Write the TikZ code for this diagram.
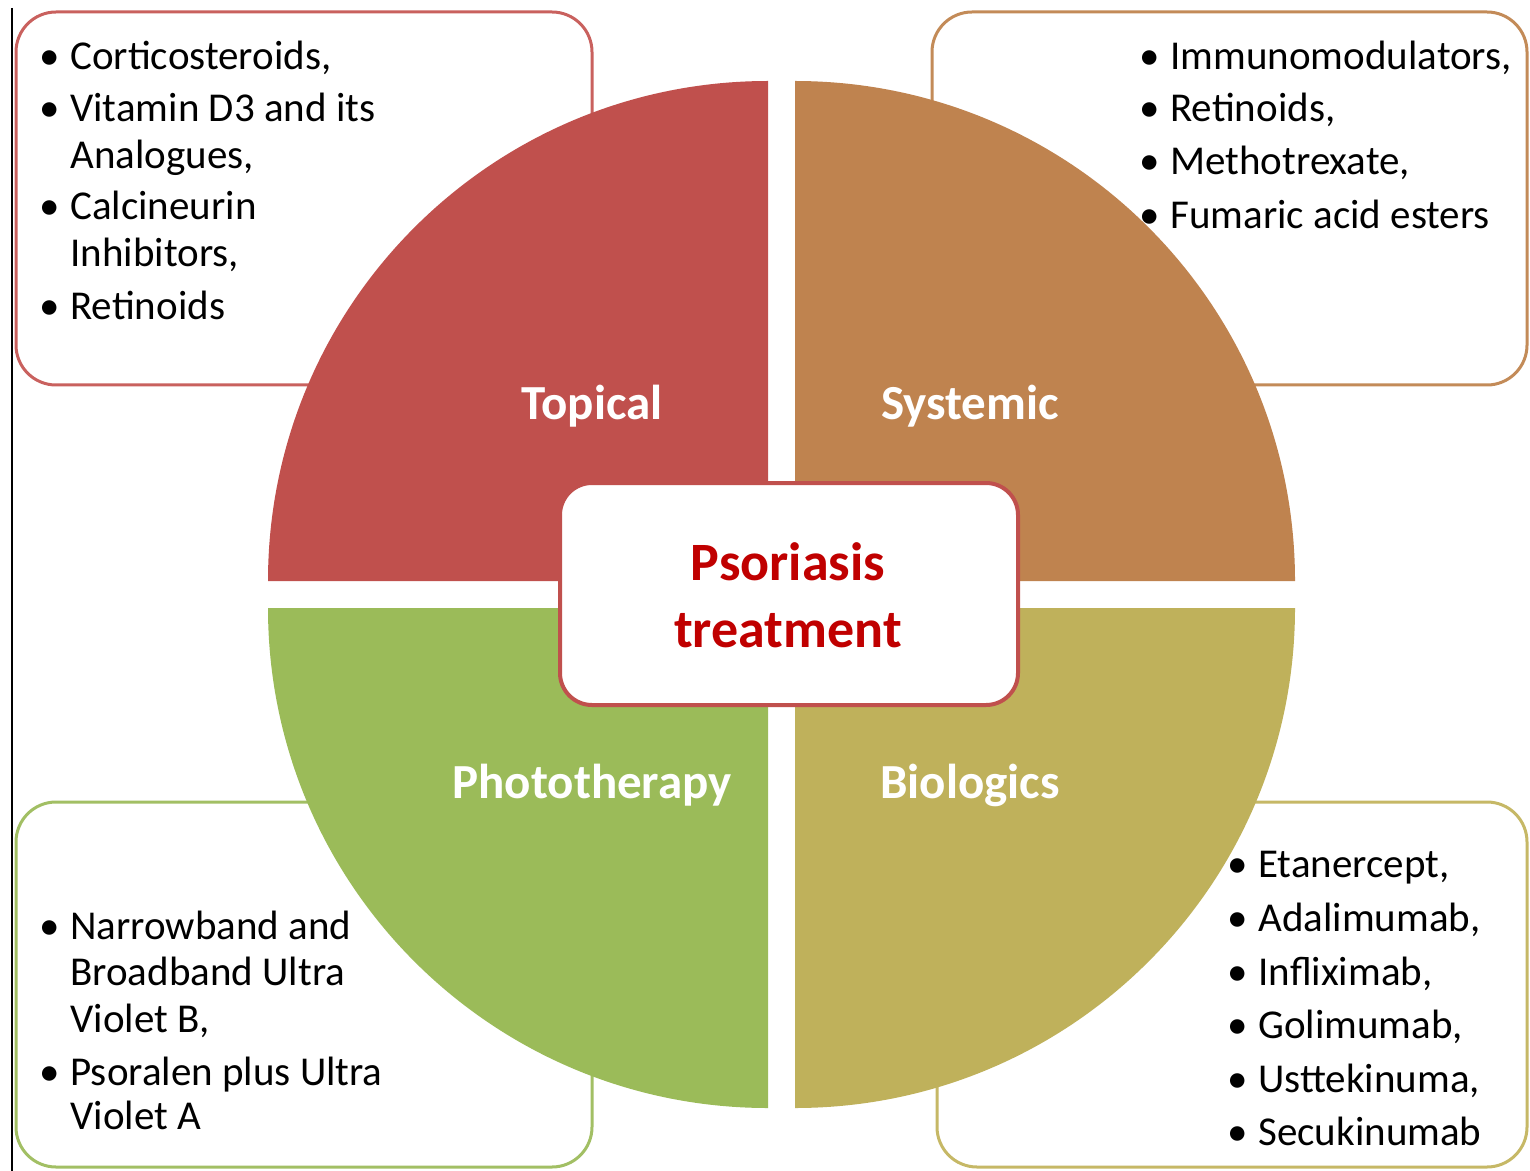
\documentclass[tikz,border=0pt]{standalone}
\usepackage{fontspec}
\setmainfont{Carlito}
\definecolor{topc}{HTML}{C0504D}
\definecolor{sysc}{HTML}{BF834F}
\definecolor{phoc}{HTML}{9BBB59}
\definecolor{bioc}{HTML}{BFB15B}
\definecolor{topb}{HTML}{C9615E}
\definecolor{sysb}{HTML}{C38B58}
\definecolor{phob}{HTML}{A2BF64}
\definecolor{biob}{HTML}{C6B866}
\definecolor{titlec}{HTML}{C00000}
\newcommand{\bl}{\llap{\textbullet\hspace{5pt}}}
\begin{document}
\begin{tikzpicture}[x=0.5pt,y=-0.5pt,
  listtxt/.style={anchor=base west, inner sep=0pt, font=\fontsize{20.5}{24}\selectfont},
  quadlab/.style={anchor=base, inner sep=0pt, text=white, font=\fontsize{24.5}{28}\selectfont\bfseries},
  titletxt/.style={anchor=base, inner sep=0pt, text=titlec, font=\fontsize{27}{32}\selectfont\bfseries},
  outerbox/.style={line width=1.5pt, fill=white, rounded corners=20pt}]
\useasboundingbox (0,0) rectangle (1530,1171);
% left rule
\draw[line width=0.8pt, black] (12,8) -- (12,1171);
% outer boxes
\draw[outerbox, draw=topb] (16,12) rectangle (592,385);
\draw[outerbox, draw=sysb] (932,12) rectangle (1527,385);
\draw[outerbox, draw=phob] (16,802) rectangle (592,1167);
\draw[outerbox, draw=biob] (937,802) rectangle (1527,1167);
% quadrants
\fill[topc] (768,581) -- (268,581) arc[start angle=180, end angle=90, radius=250pt] -- cycle;
\fill[sysc] (795,581) -- (795,81) arc[start angle=90, end angle=0, radius=250pt] -- cycle;
\fill[phoc] (768,608) -- (768,1108) arc[start angle=270, end angle=180, radius=250pt] -- cycle;
\fill[bioc] (795,608) -- (1295,608) arc[start angle=0, end angle=-90, radius=250pt] -- cycle;
% centre box
\draw[line width=2pt, draw=topc, fill=white, rounded corners=16pt] (560,483) rectangle (1018,705);
\node[titletxt] (ttl1) at (788,580) {Psoriasis};
\node[titletxt] (ttl2) at (788,647) {treatment};
% quadrant labels
\node[quadlab] (topical) at (592,419) {Topical};
\node[quadlab] (systemic) at (970,419) {Systemic};
\node[quadlab] (photo) at (592,798) {Phototherapy};
\node[quadlab] (bio) at (970,798) {Biologics};
% topical list
\node[listtxt] (a1) at (70,70) {\bl Corticosteroids,};
\node[listtxt] (a2) at (70,122) {\bl Vitamin D3 and its};
\node[listtxt] (a3) at (70,169) {Analogues,};
\node[listtxt] (a4) at (70,220) {\bl Calcineurin};
\node[listtxt] (a5) at (70,267) {Inhibitors,};
\node[listtxt] (a6) at (70,320) {\bl Retinoids};
% systemic list
\node[listtxt] (b1) at (1170,70) {\bl Immunomodulators,};
\node[listtxt] (b2) at (1170,122) {\bl Retinoids,};
\node[listtxt] (b3) at (1170,175) {\bl Methotrexate,};
\node[listtxt] (b4) at (1170,229) {\bl Fumaric acid esters};
% phototherapy list
\node[listtxt] (c1) at (70,939) {\bl Narrowband and};
\node[listtxt] (c2) at (70,985) {Broadband Ultra};
\node[listtxt] (c3) at (70,1032) {Violet B,};
\node[listtxt] (c4) at (70,1085) {\bl Psoralen plus Ultra};
\node[listtxt] (c5) at (70,1129) {Violet A};
% biologics list
\node[listtxt] (d1) at (1258,877) {\bl Etanercept,};
\node[listtxt] (d2) at (1258,931) {\bl Adalimumab,};
\node[listtxt] (d3) at (1258,985) {\bl Infliximab,};
\node[listtxt] (d4) at (1258,1038) {\bl Golimumab,};
\node[listtxt] (d5) at (1258,1092) {\bl Usttekinuma,};
\node[listtxt] (d6) at (1258,1145) {\bl Secukinumab};
\end{tikzpicture}
\end{document}
